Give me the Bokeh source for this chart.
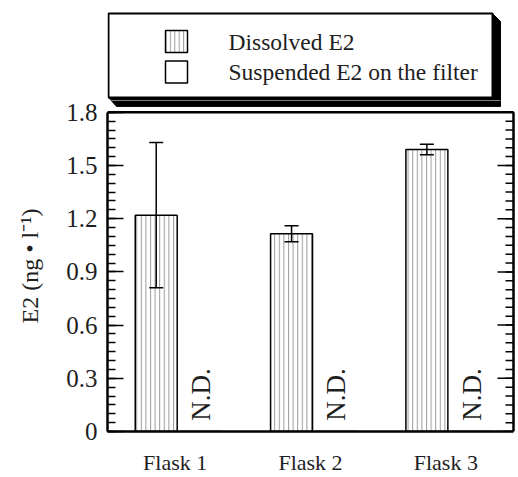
import numpy as np
from bokeh.plotting import figure
from bokeh.models import ColumnDataSource, Range1d, FixedTicker, Whisker, TeeHead
from bokeh.layouts import column
from bokeh.transform import dodge
from bokeh.embed import file_html
from bokeh.resources import INLINE
from bokeh.core.properties import value

# ---------------- data ----------------
flasks = ["Flask 1", "Flask 2", "Flask 3"]
dissolved = [1.22, 1.115, 1.59]
dissolved_err = [0.41, 0.045, 0.03]
suspended = [0.0, 0.0, 0.0]
suspended_note = ["N.D.", "N.D.", "N.D."]
series_names = ["Dissolved E2", "Suspended E2 on the filter"]
y_ticks = [0, 0.3, 0.6, 0.9, 1.2, 1.5, 1.8]
y_tick_labels = ["0", "0.3", "0.6", "0.9", "1.2", "1.5", "1.8"]
y_label = "E2 (ng \u2022 l\u207b\u00b9)"

FONT = "Liberation Serif"
TXT = "#1e1e1e"
HATCH = "#9a9a9a"

pos = list(range(1, len(flasks) + 1))
src = ColumnDataSource(dict(
    pos=pos,
    flask=flasks,
    dissolved=dissolved,
    upper=[v + e for v, e in zip(dissolved, dissolved_err)],
    lower=[v - e for v, e in zip(dissolved, dissolved_err)],
    suspended=suspended,
    note=suspended_note,
    note_y=[s + 0.06 for s in suspended],
))

# ---------------- layout in page pixels ----------------
W, H = 518, 477
SPLIT = 100                                       # legend panel / plot panel
BOX_L, BOX_R, BOX_T, BOX_B = 107, 513, 112, 437   # axes box
FRAME_R = 516
Y_MAX = 1.8
x0, x1 = 0.5, len(flasks) + 0.5
pxx = (BOX_R - BOX_L) / (x1 - x0)
pxy = (BOX_B - BOX_T) / Y_MAX


def dx(gx):
    return x0 + (gx - BOX_L) / pxx


def dy(gy):
    return (BOX_B - gy) / pxy


xr = Range1d(x0, dx(FRAME_R))

p = figure(width=W, height=H - SPLIT, title=None,
           x_range=xr, y_range=Range1d(0, dy(SPLIT)),
           output_backend="svg", toolbar_location=None,
           min_border_left=BOX_L, min_border_right=W - FRAME_R,
           min_border_top=0, min_border_bottom=H - BOX_B)
p.xgrid.grid_line_color = None
p.ygrid.grid_line_color = None
p.outline_line_color = None

minor = [round(0.05 * i, 2) for i in range(37)]

yax = p.yaxis[0]
yax.ticker = FixedTicker(ticks=y_ticks, minor_ticks=minor)
yax.bounds = (0, Y_MAX)
yax.major_label_overrides = {t: s for t, s in zip(y_ticks, y_tick_labels)}
yax.axis_line_color = "black"
yax.axis_line_width = 2.5
yax.major_tick_in = 16
yax.major_tick_out = 0
yax.minor_tick_in = 8
yax.minor_tick_out = 0
yax.major_tick_line_width = 1.5
yax.minor_tick_line_width = 1.5
yax.major_tick_line_color = "black"
yax.minor_tick_line_color = "black"
yax.major_label_text_font = FONT
yax.major_label_text_font_size = "25px"
yax.major_label_text_color = TXT
yax.major_label_standoff = 10
yax.axis_label = y_label
yax.axis_label_text_font = FONT
yax.axis_label_text_font_size = "24px"
yax.axis_label_text_font_style = "normal"
yax.axis_label_text_color = TXT
yax.axis_label_standoff = 20

xax = p.xaxis[0]
xax.ticker = FixedTicker(ticks=pos)
xax.bounds = (x0, x1)
xax.major_label_overrides = {k: s for k, s in zip(pos, flasks)}
xax.major_tick_line_color = None
xax.minor_tick_line_color = None
xax.axis_line_color = "black"
xax.axis_line_width = 2.5
xax.major_label_text_font = FONT
xax.major_label_text_font_size = "22px"
xax.major_label_text_color = TXT
xax.major_label_standoff = 12

# top and right edges of the axes box, with inward ticks on the right
p.segment(x0=[x0, x1], y0=[Y_MAX, 0], x1=[x1, x1], y1=[Y_MAX, Y_MAX],
          line_color="black", line_width=2.5)
p.ray(x=x1, y=y_ticks, length=16, length_units="screen", angle=np.pi,
      line_color="black", line_width=1.5)
p.ray(x=x1, y=minor, length=8, length_units="screen", angle=np.pi,
      line_color="black", line_width=1.5)

# bars
p.vbar(x=dodge("pos", -0.14), top="dissolved", width=0.31,
       source=src, fill_color="white", line_color="black", line_width=1.5,
       hatch_pattern="|", hatch_color=HATCH, hatch_scale=4.6, hatch_weight=1)
p.vbar(x=dodge("pos", 0.19), top="suspended", width=0.31,
       source=src, fill_color="white", line_color="black", line_width=1.5)

wh = Whisker(source=src, base=dodge("pos", -0.14),
             upper="upper", lower="lower", line_color="black", line_width=1.5,
             level="overlay",
             upper_head=TeeHead(size=14, line_width=1.5, line_color="black"),
             lower_head=TeeHead(size=14, line_width=1.5, line_color="black"))
p.add_layout(wh)

p.text(x=dodge("pos", 0.19), y="note_y", text="note",
       angle=np.pi / 2, text_align="left", text_baseline="middle",
       text_font=value(FONT), text_font_size="27px", text_color=TXT, source=src)

# ---------------- legend panel ----------------
lg = figure(width=W, height=SPLIT, title=None,
            x_range=xr, y_range=Range1d(dy(SPLIT), dy(0)),
            output_backend="svg", toolbar_location=None,
            x_axis_location=None, y_axis_location=None,
            min_border_left=BOX_L, min_border_right=W - FRAME_R,
            min_border_top=0, min_border_bottom=0)
lg.outline_line_color = None
lg.grid.visible = False

lb_l, lb_r, lb_t, lb_b, sh = 108, 492, 13, 97, 8
shadow_x = [dx(v) for v in [lb_l, lb_r, lb_r, lb_r + sh, lb_r + sh, lb_l + sh]]
shadow_y = [dy(v) for v in [lb_b, lb_b, lb_t, lb_t + sh, lb_b + sh + 1, lb_b + sh + 1]]
for fig in (lg, p):   # the shadow crosses the seam between both panels
    fig.patch(x=shadow_x, y=shadow_y, fill_color="black", line_color="black")
lg.quad(left=dx(lb_l), right=dx(lb_r), top=dy(lb_t), bottom=dy(lb_b),
        fill_color="white", line_color="black", line_width=2)

sw_x, sw = 165, 22
rows_y = [41, 71.5]
lg.quad(left=[dx(sw_x)] * 2, right=[dx(sw_x + sw)] * 2,
        top=[dy(r - sw / 2) for r in rows_y],
        bottom=[dy(r + sw / 2) for r in rows_y],
        fill_color="white", line_color="black", line_width=1.5,
        hatch_pattern=["|", " "], hatch_color=HATCH, hatch_scale=4.4,
        hatch_weight=1)
lg.text(x=[dx(228)] * 2, y=[dy(r) for r in rows_y], text=series_names,
        text_align="left", text_baseline="middle", text_font=value(FONT),
        text_font_size="23.5px", text_color=TXT)

open("out.html", "w").write(file_html(column(lg, p, spacing=0), INLINE))
